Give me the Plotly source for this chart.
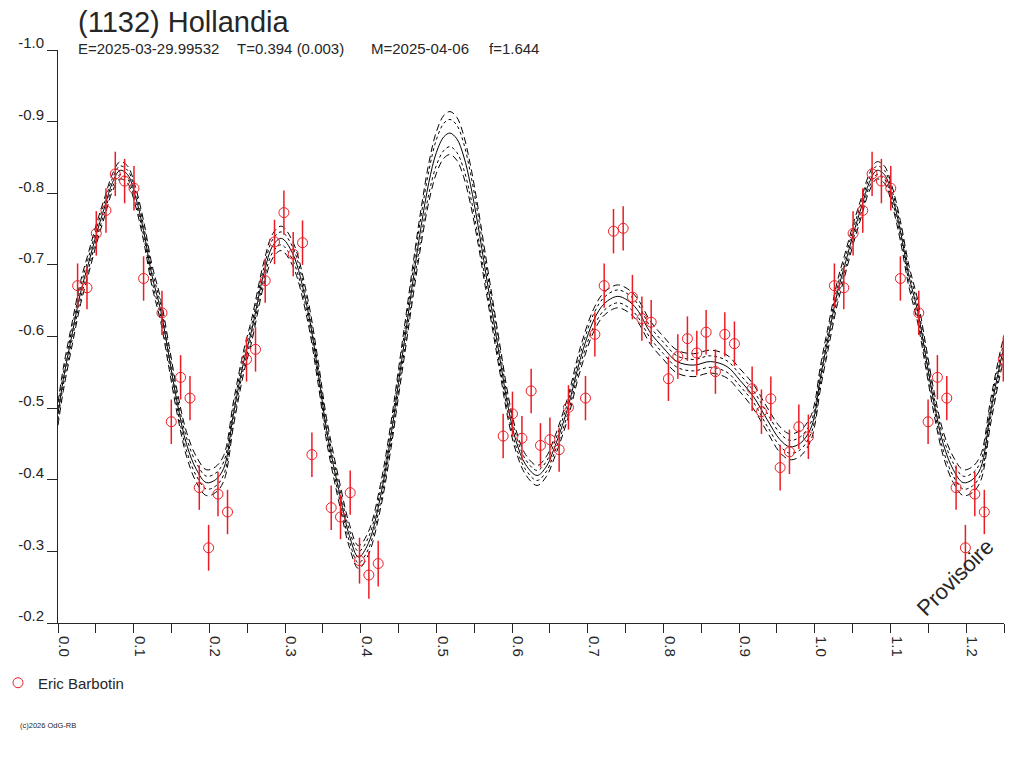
import plotly.graph_objects as go

# ---------------- data ----------------
title_text = "(1132) Hollandia"
info_texts = ["E=2025-03-29.99532", "T=0.394 (0.003)", "M=2025-04-06", "f=1.644"]
observer = "Eric Barbotin"

# model light curve (phase 0..1), solid central fit
model_phase = [0.000, 0.007, 0.018, 0.030, 0.040, 0.051, 0.062, 0.072, 0.082, 0.092,
               0.102, 0.113, 0.124, 0.136, 0.147, 0.158, 0.170, 0.183, 0.196, 0.208,
               0.219, 0.232, 0.245, 0.256, 0.272, 0.284, 0.295, 0.310, 0.329, 0.344,
               0.355, 0.373, 0.385, 0.397, 0.410, 0.426, 0.440, 0.450, 0.460, 0.470,
               0.480, 0.490, 0.500, 0.510, 0.518, 0.527, 0.536, 0.545, 0.555, 0.565,
               0.575, 0.585, 0.595, 0.605, 0.618, 0.633, 0.645, 0.655, 0.673, 0.690,
               0.708, 0.722, 0.739, 0.752, 0.765, 0.783, 0.800, 0.818, 0.840, 0.862,
               0.884, 0.901, 0.919, 0.937, 0.954, 0.967, 0.981, 0.994]
model_mag = [-0.492, -0.540, -0.600, -0.662, -0.701, -0.744, -0.782, -0.815, -0.832, -0.826,
             -0.797, -0.748, -0.686, -0.635, -0.570, -0.505, -0.449, -0.414, -0.396, -0.400,
             -0.416, -0.493, -0.563, -0.609, -0.688, -0.727, -0.737, -0.716, -0.642, -0.548,
             -0.469, -0.376, -0.322, -0.292, -0.311, -0.376, -0.462, -0.536, -0.610, -0.685,
             -0.755, -0.815, -0.857, -0.879, -0.884, -0.876, -0.852, -0.812, -0.755, -0.690,
             -0.626, -0.562, -0.500, -0.455, -0.421, -0.406, -0.418, -0.442, -0.498, -0.568,
             -0.623, -0.646, -0.656, -0.651, -0.638, -0.605, -0.584, -0.565, -0.560, -0.565,
             -0.558, -0.539, -0.516, -0.484, -0.456, -0.446, -0.451, -0.470]
# half-widths of the outer (long dash) and inner (short dash) uncertainty curves
band_outer = [0.016, 0.016, 0.016, 0.016, 0.015, 0.014, 0.013, 0.012, 0.012, 0.012,
              0.013, 0.014, 0.015, 0.016, 0.016, 0.016, 0.017, 0.018, 0.018, 0.018,
              0.018, 0.017, 0.016, 0.016, 0.016, 0.017, 0.017, 0.017, 0.016, 0.016,
              0.016, 0.016, 0.016, 0.016, 0.016, 0.017, 0.018, 0.019, 0.021, 0.023,
              0.025, 0.027, 0.029, 0.030, 0.030, 0.030, 0.029, 0.027, 0.025, 0.023,
              0.021, 0.019, 0.017, 0.015, 0.014, 0.014, 0.014, 0.014, 0.015, 0.016,
              0.016, 0.016, 0.016, 0.016, 0.016, 0.016, 0.016, 0.016, 0.016, 0.016,
              0.016, 0.016, 0.017, 0.017, 0.018, 0.018, 0.018, 0.017]
band_inner = [0.008, 0.008, 0.008, 0.008, 0.008, 0.007, 0.007, 0.006, 0.006, 0.006,
              0.007, 0.007, 0.008, 0.008, 0.008, 0.008, 0.009, 0.009, 0.009, 0.009,
              0.009, 0.009, 0.008, 0.008, 0.008, 0.009, 0.009, 0.009, 0.008, 0.008,
              0.008, 0.008, 0.008, 0.008, 0.008, 0.009, 0.010, 0.011, 0.012, 0.013,
              0.015, 0.016, 0.018, 0.019, 0.019, 0.019, 0.018, 0.016, 0.015, 0.013,
              0.012, 0.011, 0.009, 0.008, 0.007, 0.007, 0.007, 0.007, 0.008, 0.008,
              0.009, 0.009, 0.009, 0.009, 0.009, 0.008, 0.008, 0.008, 0.008, 0.008,
              0.008, 0.008, 0.008, 0.009, 0.009, 0.009, 0.009, 0.008]

# observations (phase, relative magnitude, error)
obs_phase = [0.0259, 0.0383, 0.0506, 0.0634, 0.0757, 0.0880, 0.1004, 0.1131, 0.1374, 0.1497,
             0.1620, 0.1744, 0.1867, 0.1990, 0.2114, 0.2240, 0.2491, 0.2610, 0.2738, 0.2861,
             0.2985, 0.3108, 0.3231, 0.3355, 0.3610, 0.3733, 0.3861, 0.3984, 0.4108, 0.4231,
             0.5882, 0.6005, 0.6130, 0.6252, 0.6375, 0.6500, 0.6622, 0.6745, 0.6970, 0.7094,
             0.7217, 0.7340, 0.7468, 0.7590, 0.7715, 0.7838, 0.8066, 0.8190, 0.8317, 0.8441,
             0.8564, 0.8687, 0.8811, 0.8938, 0.9172, 0.9295, 0.9419, 0.9542, 0.9665, 0.9789,
             0.9915]
obs_mag = [-0.671, -0.668, -0.744, -0.776, -0.827, -0.817, -0.807, -0.681, -0.633, -0.481,
           -0.543, -0.514, -0.389, -0.305, -0.380, -0.355, -0.568, -0.582, -0.678, -0.732,
           -0.773, -0.715, -0.731, -0.435, -0.361, -0.348, -0.382, -0.287, -0.267, -0.283,
           -0.461, -0.492, -0.458, -0.524, -0.448, -0.456, -0.442, -0.501, -0.514, -0.603,
           -0.671, -0.747, -0.751, -0.655, -0.625, -0.620, -0.541, -0.572, -0.597, -0.577,
           -0.606, -0.551, -0.603, -0.590, -0.527, -0.495, -0.513, -0.417, -0.439, -0.474,
           -0.460]
obs_err = [0.031, 0.030, 0.031, 0.031, 0.031, 0.031, 0.031, 0.031, 0.031, 0.031,
           0.031, 0.031, 0.031, 0.032, 0.031, 0.031, 0.031, 0.031, 0.031, 0.031,
           0.031, 0.031, 0.031, 0.031, 0.031, 0.031, 0.031, 0.032, 0.033, 0.032,
           0.031, 0.031, 0.031, 0.031, 0.031, 0.031, 0.031, 0.031, 0.031, 0.031,
           0.031, 0.031, 0.031, 0.031, 0.031, 0.031, 0.031, 0.031, 0.031, 0.031,
           0.031, 0.031, 0.031, 0.031, 0.031, 0.031, 0.031, 0.032, 0.031, 0.031,
           0.031]

x_tickvals = [0.0, 0.1, 0.2, 0.3, 0.4, 0.5, 0.6, 0.7, 0.8, 0.9, 1.0, 1.1, 1.2]
x_ticktext = ["0.0", "0.1", "0.2", "0.3", "0.4", "0.5", "0.6", "0.7", "0.8", "0.9", "1.0", "1.1", "1.2"]
y_tickvals = [-1.0, -0.9, -0.8, -0.7, -0.6, -0.5, -0.4, -0.3, -0.2]
y_ticktext = ["-1.0", "-0.9", "-0.8", "-0.7", "-0.6", "-0.5", "-0.4", "-0.3", "-0.2"]
phase_range = [0.0, 1.25]
wrap_limit = 0.26

# ---------------- folding beyond phase 1 (repeat first part) ----------------
def wrap(ph, *cols):
    idx = [i for i, p in enumerate(ph) if p < wrap_limit]
    out_ph = list(ph) + [ph[i] + 1.0 for i in idx]
    out_cols = [list(c) + [c[i] for i in idx] for c in cols]
    return out_ph, out_cols

m_ph, (m_mag, m_out, m_in) = wrap(model_phase, model_mag, band_outer, band_inner)
o_ph, (o_mag, o_err) = wrap(obs_phase, obs_mag, obs_err)

# ---------------- figure ----------------
FONT = "Liberation Sans, Arial, sans-serif"
INK = "#262626"
RED = "#ec1c24"

fig = go.Figure()

curves = [
    ([m - w for m, w in zip(m_mag, m_out)], "7px,4px"),
    ([m + w for m, w in zip(m_mag, m_out)], "7px,4px"),
    ([m - w for m, w in zip(m_mag, m_in)], "3px,3px"),
    ([m + w for m, w in zip(m_mag, m_in)], "3px,3px"),
    (m_mag, "solid"),
]
for ys, dash in curves:
    fig.add_trace(go.Scatter(
        x=m_ph, y=ys, mode="lines",
        line=dict(color="#000000", width=1, dash=dash, shape="spline", smoothing=1.0),
        showlegend=False, hoverinfo="skip"))

fig.add_trace(go.Scatter(
    x=o_ph, y=o_mag, mode="markers", name=observer,
    marker=dict(symbol="circle-open", size=10, color=RED, line=dict(width=1, color=RED)),
    error_y=dict(type="data", array=o_err, visible=True, color=RED, thickness=1.5, width=0),
    showlegend=True))

# the page body adds an 8 px offset; layout is expressed in page pixels
OFF = 8
W, H = 1024, 768
L, T = 58 - OFF, 50 - OFF
pw, ph = 946, 573
R, B = W - L - pw, H - T - ph

def px_x(px):
    return (px - OFF - L) / pw

def px_y(py):
    return (T + ph - (py - OFF)) / ph

fig.update_layout(
    width=W, height=H,
    margin=dict(l=L, r=R, t=T, b=B, pad=0, autoexpand=False),
    paper_bgcolor="white", plot_bgcolor="white",
    font=dict(family=FONT, color=INK, size=15),
    showlegend=True,
    legend=dict(xref="paper", yref="container", x=px_x(-2), xanchor="left",
                y=1 - (683 - OFF) / H, yanchor="middle", bgcolor="rgba(0,0,0,0)",
                font=dict(family=FONT, size=15, color=INK), itemwidth=30,
                borderwidth=0),
    xaxis=dict(range=phase_range, showgrid=False, zeroline=False, automargin=False,
               showline=True, linecolor=INK, linewidth=1, mirror=False,
               ticks="outside", ticklen=9, tickcolor=INK, tickwidth=1,
               tickmode="array", tickvals=x_tickvals, ticktext=x_ticktext,
               tickangle=90, tickfont=dict(family=FONT, size=15, color=INK),
               ticklabelshift=6,
               minor=dict(ticks="outside", ticklen=9, tickcolor=INK, tickwidth=1,
                          tickmode="linear", tick0=0.05, dtick=0.1)),
    yaxis=dict(range=[-0.2, -1.0], showgrid=False, zeroline=False, automargin=False,
               showline=True, linecolor=INK, linewidth=1, mirror=False,
               ticks="outside", ticklen=10, tickcolor=INK, tickwidth=1,
               tickmode="array", tickvals=y_tickvals, ticktext=y_ticktext,
               tickfont=dict(family=FONT, size=15, color=INK),
               ticklabelshift=7),
)

# title as a text box
fig.add_annotation(text=title_text, xref="paper", yref="paper",
                   x=px_x(76), y=px_y(22), xanchor="left", yanchor="middle",
                   showarrow=False, font=dict(family=FONT, size=29, color=INK))

info_x = [76, 235, 369, 487]
for txt, xp in zip(info_texts, info_x):
    fig.add_annotation(text=txt, xref="paper", yref="paper",
                       x=px_x(xp), y=px_y(48), xanchor="left", yanchor="middle",
                       showarrow=False, font=dict(family=FONT, size=15, color=INK))

fig.add_annotation(text="Provisoire", xref="paper", yref="paper",
                   x=px_x(955), y=px_y(577), xanchor="center", yanchor="middle",
                   textangle=-45, showarrow=False,
                   font=dict(family=FONT, size=22, color=INK))

fig.add_annotation(text="(c)2026 OdG-RB", xref="paper", yref="paper",
                   x=px_x(18), y=px_y(725), xanchor="left", yanchor="middle",
                   showarrow=False, font=dict(family=FONT, size=7.5, color=INK))

fig.write_html("out.html")
